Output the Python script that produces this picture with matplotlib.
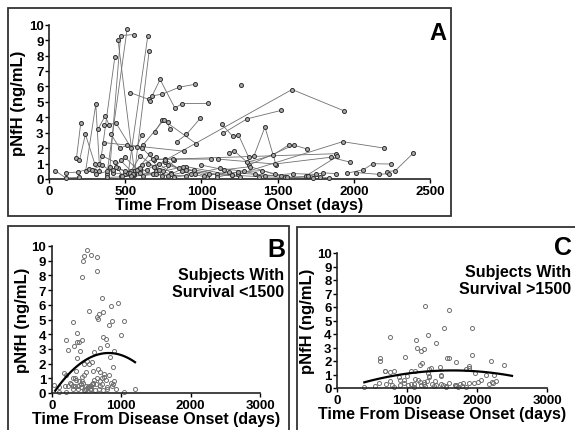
import numpy as np
import matplotlib
matplotlib.use("Agg")
import matplotlib.pyplot as plt
from matplotlib.patches import Rectangle

plt.rcParams['font.family'] = ['Liberation Sans', 'DejaVu Sans']
plt.rcParams['font.weight'] = 'bold'

# ---- Short-survival subjects (survival < 1500 days): id, day, pNfH ----
short_id = [1, 1,
            2, 2, 2,
            3, 3,
            4, 4,
            5, 5,
            6, 6,
            7, 7,
            8, 8, 8, 8,
            9, 9, 9, 9, 9,
            10, 10,
            11, 11, 11,
            12, 12, 12,
            13, 13, 13,
            14, 14, 14,
            15, 15, 15, 15, 15,
            16, 16, 16, 16,
            17, 17, 17,
            18, 18,
            19, 19, 19,
            20, 20, 20, 20,
            21, 21, 21, 21,
            22, 22, 22, 22, 22,
            23, 23, 23, 23, 23,
            24, 24, 24, 24, 24, 24,
            25, 25, 25, 25, 25, 25, 25,
            26, 26, 26, 26, 26,
            27, 27, 27, 27, 27,
            28, 28, 28, 28, 28,
            29, 29, 29, 29, 29,
            30, 30, 30]
short_day = [453, 560,
             400, 470, 561,
             380, 513,
             520, 648,
             560, 657,
             330, 432,
             533, 653,
             677, 744, 855, 960,
             660, 729, 826, 874, 1046,
             180, 208,
             200, 239, 300,
             240, 307, 330,
             321, 369, 394,
             360, 441, 540,
             408, 465, 513, 576, 609,
             696, 744, 778, 792,
             840, 902, 994,
             360, 888,
             40, 110, 200,
             110, 190, 260, 300,
             280, 350, 420, 500,
             310, 380, 450, 520, 600,
             420, 470, 540, 610, 700,
             440, 500, 560, 640, 720, 800,
             470, 530, 600, 690, 760, 850, 930,
             500, 580, 660, 740, 820,
             550, 620, 700, 780, 880,
             600, 680, 760, 870, 1037,
             650, 720, 800, 900, 1200,
             350, 430, 480]
short_val = [9.0, 0.5,
             0.8, 9.3, 9.36,
             0.3, 9.75,
             0.4, 9.25,
             0.25, 8.3,
             0.5, 7.9,
             5.6, 5.16,
             5.39, 5.5, 5.95, 6.14,
             5.05, 6.45, 4.6, 4.89, 4.9,
             1.34, 3.6,
             1.2, 2.9, 1.0,
             0.5, 4.84, 1.0,
             3.23, 4.09, 3.5,
             3.5, 3.61, 2.0,
             2.89, 1.98, 2.2, 2.09, 2.82,
             3.07, 3.84, 3.68, 3.27,
             2.43, 2.89, 3.95,
             2.36, 1.8,
             0.55, 0.07, 0.1,
             0.4, 0.45, 0.65, 0.5,
             0.6, 0.9, 0.4, 0.3,
             0.3, 0.5, 0.7, 0.4, 0.6,
             0.6, 1.2, 0.5, 0.9, 1.4,
             0.8, 0.5, 0.3, 0.6, 1.0, 0.4,
             0.2, 0.4, 1.5, 0.8, 1.1, 0.7, 0.3,
             1.4, 0.6, 1.6, 0.2, 1.2,
             0.3, 0.2, 0.5, 0.9, 0.6,
             0.7, 0.3, 1.3, 0.5, 0.1,
             1.0, 0.6, 0.3, 0.8, 0.25,
             1.5, 1.1, 0.2]

# ---- Long-survival subjects (survival > 1500 days): id, day, pNfH ----
long_id = [1, 1, 1,
           2, 2, 2,
           3, 3, 3,
           4, 4, 4,
           5, 5, 5,
           6, 6,
           7, 7,
           8, 8, 8, 8,
           9, 9, 9,
           10,
           11, 11, 11,
           12, 12, 12, 12,
           13, 13, 13, 13,
           14, 14, 14, 14, 14,
           15, 15, 15, 15,
           17, 17, 17, 17,
           18, 18, 18, 18, 18,
           19, 19, 19, 19, 19, 19,
           20, 20, 20, 20, 20, 20, 20,
           21, 21, 21, 21, 21, 21, 21, 21,
           22, 22, 22, 22,
           23, 23, 23, 23, 23,
           24, 24, 24,
           25, 25, 25]
long_day = [760, 1595, 1935,
            1140, 1300, 1525,
            1345, 1417, 1490,
            1240, 1927, 2200,
            1310, 1605, 1695,
            690, 1881,
            1686, 1892,
            1957, 2063, 2124, 2244,
            2220, 2272, 2391,
            1262,
            619, 752, 967,
            610, 681, 814, 1062,
            1133, 1205, 1243, 1310,
            1181, 1214, 1300, 1467, 1576,
            1110, 1481, 1848, 1976,
            381, 538, 700, 900,
            600, 780, 950, 1100, 1250,
            750, 880, 1020, 1180, 1350, 1520,
            820, 960, 1120, 1280, 1420, 1600, 1752,
            900, 1050, 1200, 1380, 1550, 1700, 1800, 1881,
            1000, 1150, 1320, 1480,
            1100, 1240, 1400, 1560, 1730,
            2014, 2167, 2229,
            1700, 1780, 1840]
long_val = [1.2, 5.8, 4.42,
            2.95, 3.9, 4.45,
            1.5, 3.37, 0.9,
            0.3, 2.42, 2.0,
            0.9, 2.2, 1.94,
            1.25, 1.64,
            0.2, 1.47,
            0.38, 0.6, 0.99, 0.97,
            0.48, 0.54, 1.68,
            6.06,
            2.23, 3.81, 2.28,
            2.03, 1.29, 1.29, 1.29,
            3.56, 2.77, 2.87, 1.41,
            1.7, 1.83, 1.09, 1.53, 2.23,
            1.29, 0.97, 1.41, 1.09,
            0.1, 0.17, 0.3, 0.2,
            0.4, 0.2, 0.6, 0.3, 0.15,
            0.5, 0.8, 0.2, 0.45, 0.3, 0.2,
            0.1, 0.35, 0.7, 0.5, 0.2, 0.35, 0.3,
            0.6, 0.3, 0.25, 0.15, 0.1, 0.18, 0.4, 0.35,
            0.9, 0.6, 0.8, 0.3,
            0.1, 0.45, 0.55, 0.12, 0.05,
            0.42, 0.3, 0.35,
            0.2, 0.15, 0.05]

# quadratic fits (vertex form): peak day, peak value, curvature, day range
fit_short = dict(peak_day=820, peak_val=2.72, curv=4.33e-6, start=50, end=1200)
fit_long = dict(peak_day=1650, peak_val=1.30, curv=5.54e-7, start=390, end=2500)

ticks_a_x = [0, 500, 1000, 1500, 2000, 2500]
ticks_bc_x = [0, 1000, 2000, 3000]
ticks_y = list(range(0, 11))

W, H = 575, 431
fig = plt.figure(figsize=(W / 100, H / 100), dpi=100)


def fx(px):
    return px / W


def fy(py):
    return 1 - py / H


# frames
for (x0, y0, x1, y1) in [(8, 9, 451, 217), (8, 227, 289, 433), (297, 228, 578, 433)]:
    fig.patches.append(Rectangle((fx(x0), fy(y1)), fx(x1) - fx(x0), fy(y0) - fy(y1),
                                 transform=fig.transFigure, fill=False,
                                 edgecolor='#333333', linewidth=1.3))

TICK_FS = 9.5
XL_FS = 11.5
YL_FS = 12


def style(ax):
    for s in ['top', 'right']:
        ax.spines[s].set_visible(False)
    for s in ['left', 'bottom']:
        ax.spines[s].set_linewidth(1.2)
        ax.spines[s].set_color('#222222')
    ax.tick_params(direction='out', length=3, width=1, pad=1, labelsize=TICK_FS)
    for lab in ax.get_xticklabels() + ax.get_yticklabels():
        lab.set_fontweight('bold')


# ---- Panel A ----
axA = fig.add_axes([fx(49), fy(180), fx(430) - fx(49), fy(25.7) - fy(180)])
sid = np.array(short_id); sday = np.array(short_day); sval = np.array(short_val)
lid = np.array(long_id); lday = np.array(long_day); lval = np.array(long_val)
for ids, days, vals in [(sid, sday, sval), (lid, lday, lval)]:
    for k in np.unique(ids):
        m = ids == k
        axA.plot(days[m], vals[m], '-', color='#707070', lw=0.6, zorder=2, clip_on=False)
for days, vals in [(sday, sval), (lday, lval)]:
    axA.plot(days, vals, 'o', ms=2.9, mfc='#a8a8a8', mec='#303030', mew=0.7,
             ls='none', zorder=3, clip_on=False)
axA.set_xlim(0, 2500)
axA.set_ylim(0, 10)
axA.set_xticks(ticks_a_x)
axA.set_yticks(ticks_y)
axA.set_xlabel('Time From Disease Onset (days)', fontsize=XL_FS, fontweight='bold', labelpad=0)
axA.set_ylabel('pNfH (ng/mL)', fontsize=YL_FS, fontweight='bold', labelpad=2)
style(axA)
fig.text(fx(446), fy(33), 'A', fontsize=17, fontweight='bold', ha='right', va='center')


# ---- Panels B and C ----
def scatter_panel(rect, days, vals, fit, letter, letter_xy, text, text_xy):
    ax = fig.add_axes(rect)
    ax.plot(days, vals, 'o', ms=2.9, mfc='none', mec='#707070', mew=0.7,
            ls='none', clip_on=False)
    xs = np.linspace(fit['start'], fit['end'], 100)
    ys = fit['peak_val'] - fit['curv'] * (xs - fit['peak_day']) ** 2
    ax.plot(xs, ys, '-', color='black', lw=1.6)
    ax.set_xlim(0, 3000)
    ax.set_ylim(0, 10)
    ax.set_xticks(ticks_bc_x)
    ax.set_yticks(ticks_y)
    ax.set_xlabel('Time From Disease Onset (days)', fontsize=XL_FS, fontweight='bold', labelpad=0)
    ax.set_ylabel('pNfH (ng/mL)', fontsize=YL_FS, fontweight='bold', labelpad=1)
    style(ax)
    fig.text(fx(letter_xy[0]), fy(letter_xy[1]), letter, fontsize=18,
             fontweight='bold', ha='right', va='center')
    fig.text(fx(text_xy[0]), fy(text_xy[1]), text, fontsize=11.5, fontweight='bold',
             ha='right', va='center', linespacing=1.1)
    return ax


scatter_panel([fx(51.7), fy(394), fx(260) - fx(51.7), fy(247) - fy(394)],
              sday, sval, fit_short, 'B', (285, 250),
              'Subjects With\nSurvival <1500', (284, 284))
scatter_panel([fx(337), fy(389), fx(547) - fx(337), fy(254) - fy(389)],
              lday, lval, fit_long, 'C', (572, 248),
              'Subjects With\nSurvival >1500', (571, 281))

fig.savefig('out.png', dpi=100)
